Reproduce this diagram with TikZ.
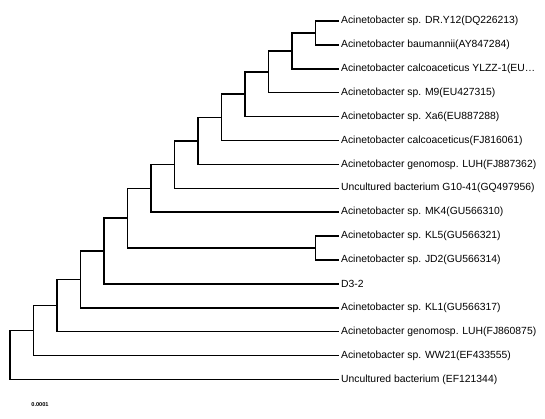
\documentclass[tikz,border=0pt]{standalone}
\usepackage{fontspec}
\setmainfont{Liberation Sans}

\begin{document}
\begin{tikzpicture}[x=0.02cm,y=-0.02cm,
  leaf/.style={anchor=west,inner sep=1pt,font=\fontsize{5.9}{6.5}\selectfont},
  branch/.style={line width=0.8pt}]
\useasboundingbox (0,0) rectangle (545,419);
% leaves, top to bottom
\foreach \nm/\txt [count=\i] in {
  dry/Acinetobacter sp. DR.Y12(DQ226213),
  baum/Acinetobacter baumannii(AY847284),
  ylzz/{Acinetobacter calcoaceticus YLZZ-1(EU\ldots},
  mnine/Acinetobacter sp. M9(EU427315),
  xasix/Acinetobacter sp. Xa6(EU887288),
  calco/Acinetobacter calcoaceticus(FJ816061),
  luha/Acinetobacter genomosp. LUH(FJ887362),
  gten/Uncultured bacterium G10-41(GQ497956),
  mkfour/Acinetobacter sp. MK4(GU566310),
  klfive/Acinetobacter sp. KL5(GU566321),
  jdtwo/Acinetobacter sp. JD2(GU566314),
  dthree/D3-2,
  klone/Acinetobacter sp. KL1(GU566317),
  luhb/Acinetobacter genomosp. LUH(FJ860875),
  ww/Acinetobacter sp. WW21(EF433555),
  unc/Uncultured bacterium (EF121344)}
  \node[leaf] (\nm) at (339,{21+23.9*(\i-1)}) {\txt};
% inner nodes
\coordinate (c0) at (10,355);
\coordinate (c1) at (33.5,330.6);
\coordinate (c2) at (57,305.7);
\coordinate (c3) at (80.5,279.5);
\coordinate (c4) at (104,251);
\coordinate (c5) at (127.5,218.2);
\coordinate (c6) at (151,188.4);
\coordinate (c7) at (174.5,164.6);
\coordinate (c8) at (198,140.9);
\coordinate (c9) at (221.5,117.3);
\coordinate (c10) at (245,94.2);
\coordinate (c11) at (268.5,71.8);
\coordinate (c12) at (292,50.9);
\coordinate (c13) at (315.5,33);
\coordinate (c14) at (315.5,248);
% branches
\draw[branch] (c13) |- (dry.west) (c13) |- (baum.west);
\draw[branch] (c12) |- (c13) (c12) |- (ylzz.west);
\draw[branch] (c11) |- (c12) (c11) |- (mnine.west);
\draw[branch] (c10) |- (c11) (c10) |- (xasix.west);
\draw[branch] (c9) |- (c10) (c9) |- (calco.west);
\draw[branch] (c8) |- (c9) (c8) |- (luha.west);
\draw[branch] (c7) |- (c8) (c7) |- (gten.west);
\draw[branch] (c6) |- (c7) (c6) |- (mkfour.west);
\draw[branch] (c14) |- (klfive.west) (c14) |- (jdtwo.west);
\draw[branch] (c5) |- (c6) (c5) |- (c14);
\draw[branch] (c4) |- (c5) (c4) |- (dthree.west);
\draw[branch] (c3) |- (c4) (c3) |- (klone.west);
\draw[branch] (c2) |- (c3) (c2) |- (luhb.west);
\draw[branch] (c1) |- (c2) (c1) |- (ww.west);
\draw[branch] (c0) |- (c1) (c0) |- (unc.west);
% scale bar label
\node[font=\fontsize{3.2}{4}\selectfont\bfseries] (bar) at (40,405) {0.0001};
\end{tikzpicture}
\end{document}
